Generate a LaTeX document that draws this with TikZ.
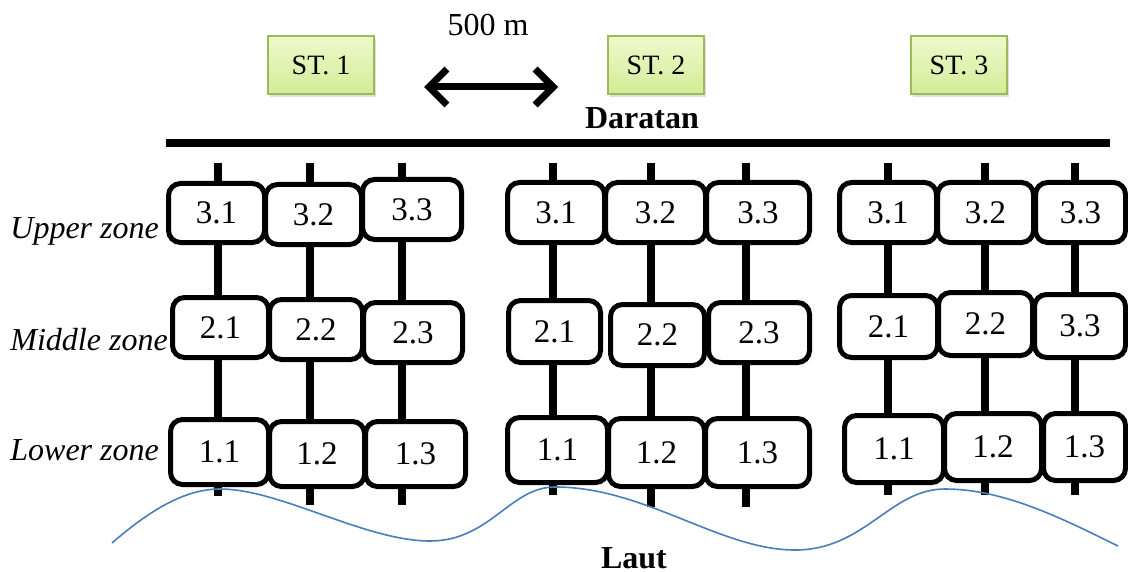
\documentclass[tikz,border=0pt]{standalone}
\usepackage{fontspec}
\setmainfont{Liberation Serif}
\usetikzlibrary{arrows.meta,shadows}
\definecolor{stborder}{HTML}{9BBB59}
\definecolor{sttop}{HTML}{EEF9CC}
\definecolor{stbot}{HTML}{D3EC98}
\definecolor{wavecol}{HTML}{4A7EBB}
\tikzset{
  cell/.style={draw=black, line width=2.5pt, rounded corners=6pt, fill=white, inner sep=0pt,
    font=\fontsize{16.5}{19}\selectfont},
  station/.style={draw=stborder, line width=1pt, top color=sttop, bottom color=stbot, inner sep=0pt,
    font=\fontsize{14}{17}\selectfont,
    drop shadow={opacity=0.25, shadow xshift=1pt, shadow yshift=-1.5pt}},
  pole/.style={line width=4pt},
  zonelabel/.style={anchor=base west, inner sep=0pt, font=\fontsize{16}{19}\selectfont\itshape},
  heading/.style={anchor=base, inner sep=0pt, font=\fontsize{16}{19}\selectfont\bfseries},
  plainlabel/.style={anchor=base, inner sep=0pt, font=\fontsize{16}{19}\selectfont},
  shoreline/.style={line width=4pt},
  distarrow/.style={line width=3.5pt, {Straight Barb[length=9pt,width=18pt]}-{Straight Barb[length=9pt,width=18pt]}},
  waveline/.style={draw=wavecol, line width=0.8pt}
}
\newcommand\cellbox[6]{\node[cell, minimum width={(#4-1)*0.5pt}, minimum height={(#5-5)*0.5pt}] (#1) at (#2,#3) {#6};}
\newcommand\stbox[6]{\node[station, minimum width={(#4-2)*0.5pt}, minimum height={(#5-2)*0.5pt}] (#1) at (#2,#3) {#6};}
\newcommand\polecoords[4]{\coordinate (#1top) at (#2,163); \coordinate (#1bot) at (#2,#3); \draw[pole] (#1top) -- (#1bot);}
\begin{document}
\begin{tikzpicture}[x=0.5pt,y=-0.5pt]
\useasboundingbox (0,0) rectangle (1128,572);

% stations
\stbox{st1}{321}{65}{108}{60}{ST. 1}
\stbox{st2}{656}{65}{98}{60}{ST. 2}
\stbox{st3}{959}{65}{98}{60}{ST. 3}

% distance arrow
\node[plainlabel] (dist) at (488,36) {500 m};
\coordinate (aL) at (424,87);
\coordinate (aR) at (558,87);
\draw[distarrow] (aL) -- (aR);

% land
\node[heading] (land) at (642,129) {Daratan};
\coordinate (shoreL) at (166,143);
\coordinate (shoreR) at (1110,143);
\draw[shoreline] (shoreL) -- (shoreR);

% poles
\polecoords{g1a}{218}{496}{}
\polecoords{g1b}{310}{505}{}
\polecoords{g1c}{402}{505}{}
\polecoords{g2a}{553}{495}{}
\polecoords{g2b}{651}{507}{}
\polecoords{g2c}{746}{507}{}
\polecoords{g3a}{888}{495}{}
\polecoords{g3b}{985}{495}{}
\polecoords{g3c}{1075}{495}{}

% group 1
\cellbox{g1u1}{216.5}{213}{97}{64}{3.1}
\cellbox{g1u2}{313.5}{214.5}{97}{65}{3.2}
\cellbox{g1u3}{412}{209.5}{100}{65}{3.3}
\cellbox{g1m1}{220.5}{327.5}{97}{65}{2.1}
\cellbox{g1m2}{316}{329.5}{94}{65}{2.2}
\cellbox{g1m3}{413}{332.5}{100}{65}{2.3}
\cellbox{g1l1}{219.5}{452}{99}{70}{1.1}
\cellbox{g1l2}{317}{454}{96}{70}{1.2}
\cellbox{g1l3}{415.5}{454}{101}{70}{1.3}

% group 2
\cellbox{g2u1}{556}{212.5}{98}{65}{3.1}
\cellbox{g2u2}{655.5}{212.5}{101}{65}{3.2}
\cellbox{g2u3}{758}{212.5}{104}{65}{3.3}
\cellbox{g2m1}{554.5}{331.5}{93}{67}{2.1}
\cellbox{g2m2}{657.5}{335}{95}{66}{2.2}
\cellbox{g2m3}{759}{332.5}{102}{65}{2.3}
\cellbox{g2l1}{557.5}{450}{101}{70}{1.1}
\cellbox{g2l2}{656.5}{452.5}{97}{73}{1.2}
\cellbox{g2l3}{757.5}{452.5}{105}{73}{1.3}

% group 3
\cellbox{g3u1}{888}{212.5}{98}{65}{3.1}
\cellbox{g3u2}{985.5}{212.5}{97}{65}{3.2}
\cellbox{g3u3}{1080.5}{212.5}{91}{65}{3.3}
\cellbox{g3m1}{888.5}{326.5}{99}{67}{2.1}
\cellbox{g3m2}{985.5}{324}{95}{68}{2.2}
\cellbox{g3m3}{1080}{326}{92}{68}{3.3}
\cellbox{g3l1}{894}{449}{100}{72}{1.1}
\cellbox{g3l2}{993}{447}{98}{72}{1.2}
\cellbox{g3l3}{1084.5}{447}{83}{72}{1.3}

% zone labels
\node[zonelabel] (upper) at (10,238) {Upper zone};
\node[zonelabel] (middle) at (10,350) {Middle zone};
\node[zonelabel] (lower) at (10,460) {Lower zone};

% sea
\coordinate (w0) at (112,543);
\coordinate (p1) at (220,489);
\coordinate (t1) at (430,541);
\coordinate (p2) at (555,487);
\coordinate (t2) at (795,550);
\coordinate (p3) at (945,489);
\coordinate (w1) at (1118,546);
\draw[waveline] (w0) .. controls (150,510) and (185,489) .. (p1)
  .. controls (280,489) and (365,541) .. (t1)
  .. controls (490,541) and (510,487) .. (p2)
  .. controls (645,487) and (720,550) .. (t2)
  .. controls (865,550) and (890,489) .. (p3)
  .. controls (1005,489) and (1065,520) .. (w1);
\node[heading] (sea) at (634,568) {Laut};
\end{tikzpicture}
\end{document}
